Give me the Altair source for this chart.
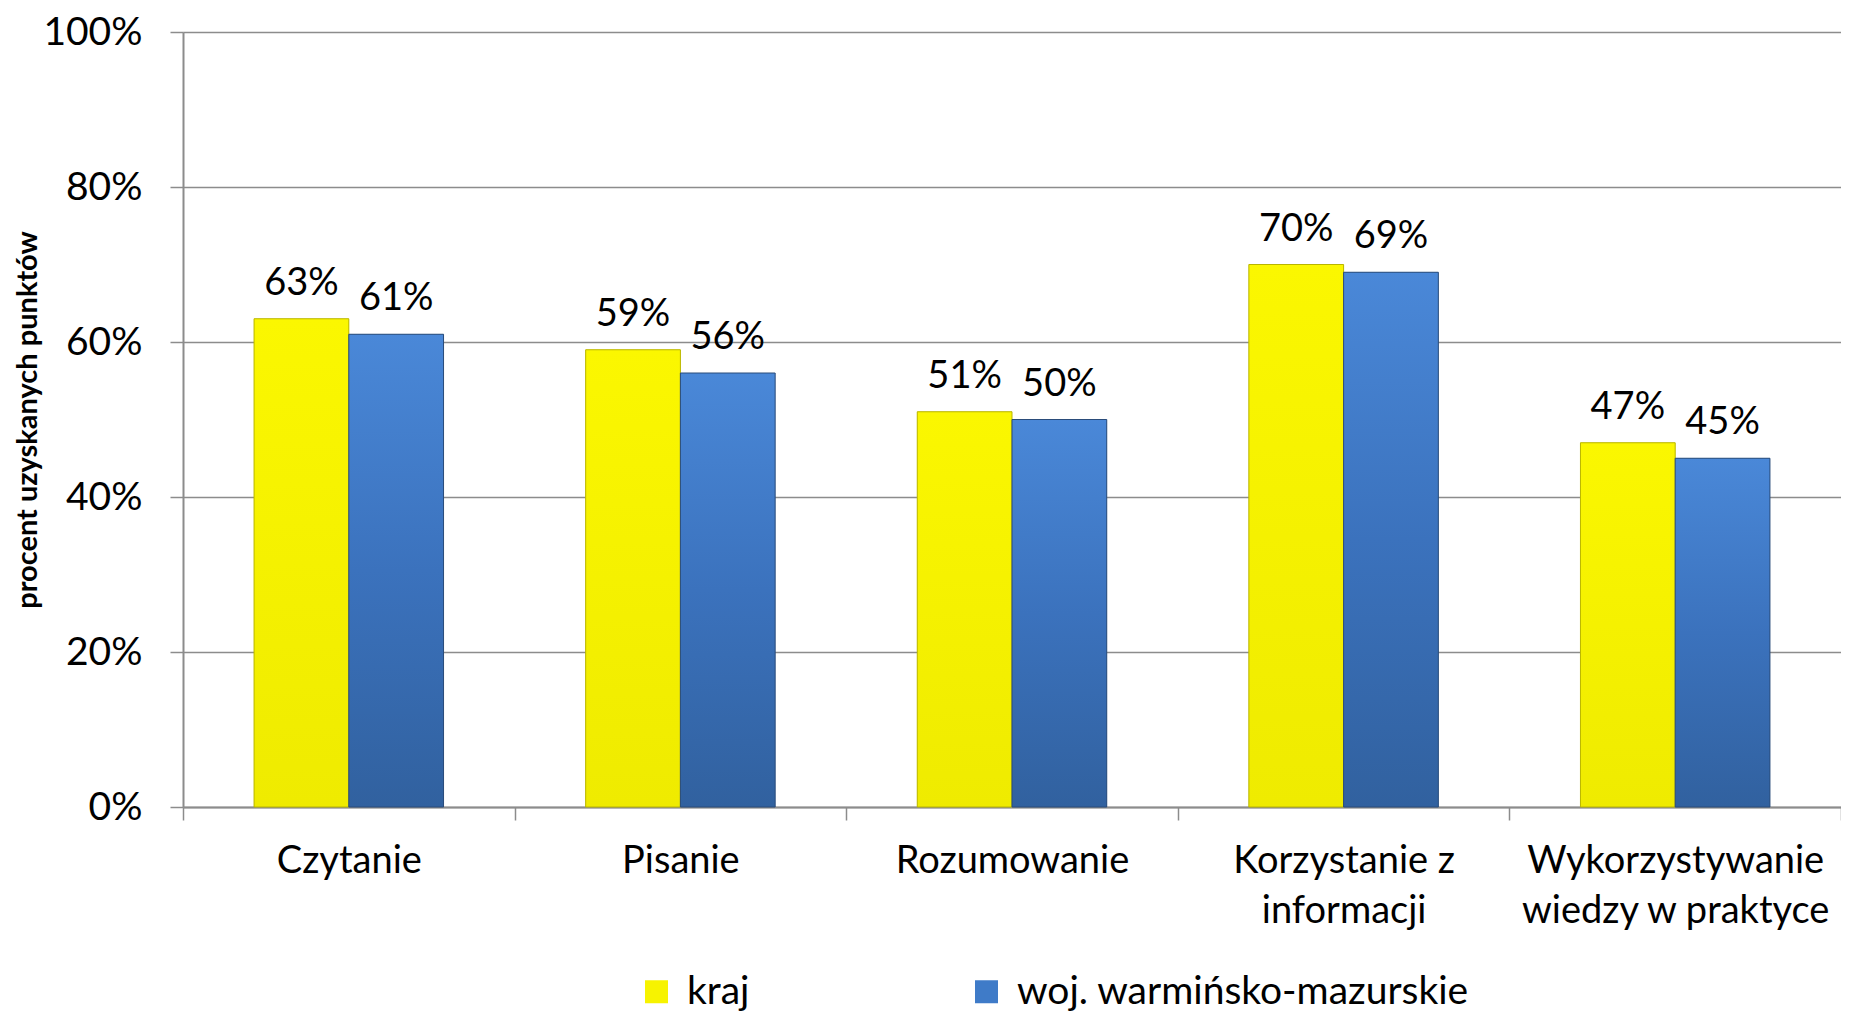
import altair as alt
import pandas as pd

categories = ["Czytanie", "Pisanie", "Rozumowanie", "Korzystanie z\ninformacji", "Wykorzystywanie\nwiedzy w praktyce"]
series = ["kraj", "woj. warmińsko-mazurskie"]
kraj = [63, 59, 51, 70, 47]
woj = [61, 56, 50, 69, 45]
y_ticks = [0, 20, 40, 60, 80, 100]

rows = []
for c, a, b in zip(categories, kraj, woj):
    rows.append({"kategoria": c, "seria": series[0], "wartosc": a})
    rows.append({"kategoria": c, "seria": series[1], "wartosc": b})
df = pd.DataFrame(rows)

FONT = "Lato"
GRID = "#8c8c8c"
flat_colors = ["#f7f300", "#3f7bc8"]
g_kraj = {"gradient": "linear", "x1": 0, "y1": 0, "x2": 0, "y2": 1,
          "stops": [{"offset": 0, "color": "#fbf700"}, {"offset": 1, "color": "#efeb00"}]}
g_woj = {"gradient": "linear", "x1": 0, "y1": 0, "x2": 0, "y2": 1,
         "stops": [{"offset": 0, "color": "#4a88d8"}, {"offset": 0.5, "color": "#3b72bd"},
                   {"offset": 1, "color": "#31619f"}]}

x_enc = alt.X("kategoria:N", sort=categories,
              scale=alt.Scale(paddingInner=0, paddingOuter=0),
              axis=alt.Axis(title=None, labelAngle=0, grid=False, tickBand="extent",
                            labelExpr="split(datum.label, '\\n')",
                            labelFont=FONT, labelFontSize=38, labelLineHeight=50,
                            labelPadding=22, labelColor="#000000", labelLimit=0,
                            tickSize=13, tickColor=GRID, tickWidth=1.5,
                            domainColor=GRID, domainWidth=2))
xo_enc = alt.XOffset("seria:N", sort=series, scale=alt.Scale(paddingInner=0, paddingOuter=0.75))
y_enc = alt.Y("wartosc:Q", scale=alt.Scale(domain=[0, 100]),
              axis=alt.Axis(values=y_ticks, labelExpr="datum.value + '%'",
                            title="procent uzyskanych punktów", titleFont=FONT, titleFontSize=29,
                            titleFontWeight="bold", titleColor="#000000", titleX=-141,
                            labelFont=FONT, labelFontSize=39, labelPadding=28, labelColor="#000000",
                            tickSize=13, tickColor=GRID, tickWidth=1.5,
                            gridColor=GRID, gridWidth=1.5,
                            domainColor=GRID, domainWidth=2))

base = alt.Chart(df)

legend_layer = base.mark_bar().encode(
    x=x_enc, xOffset=xo_enc, y=y_enc,
    color=alt.Color("seria:N", sort=series,
                    scale=alt.Scale(domain=series, range=flat_colors),
                    legend=alt.Legend(orient="none", legendX=454, legendY=940,
                                      direction="horizontal", title=None,
                                      symbolType="square", symbolSize=529,
                                      symbolStrokeWidth=0, labelLimit=0,
                                      labelFont=FONT, labelFontSize=39, labelColor="#000000",
                                      labelOffset=11, columnPadding=217, padding=0)),
)

bars = base.mark_bar(strokeWidth=1).encode(
    x=x_enc, xOffset=xo_enc, y=y_enc,
    fill=alt.condition(alt.datum.seria == "kraj", alt.value(g_kraj), alt.value(g_woj)),
    stroke=alt.condition(alt.datum.seria == "kraj", alt.value("#b9b500"), alt.value("#2a4c7a")),
)

labels = base.transform_calculate(
    etykieta="datum.wartosc + '%'"
).mark_text(baseline="middle", dy=-35, font=FONT, fontSize=38, color="#000000").encode(
    x=x_enc, xOffset=xo_enc, y=y_enc, text="etykieta:N",
)

chart = alt.layer(legend_layer, bars, labels).properties(
    width=1658, height=775,
    autosize=alt.AutoSizeParams(type="none"),
    padding={"left": 175, "top": 24, "right": 0, "bottom": 204},
).configure_view(stroke=None).configure(background="white")

chart.save("out.html", embed_options={"renderer": "svg", "actions": False})
